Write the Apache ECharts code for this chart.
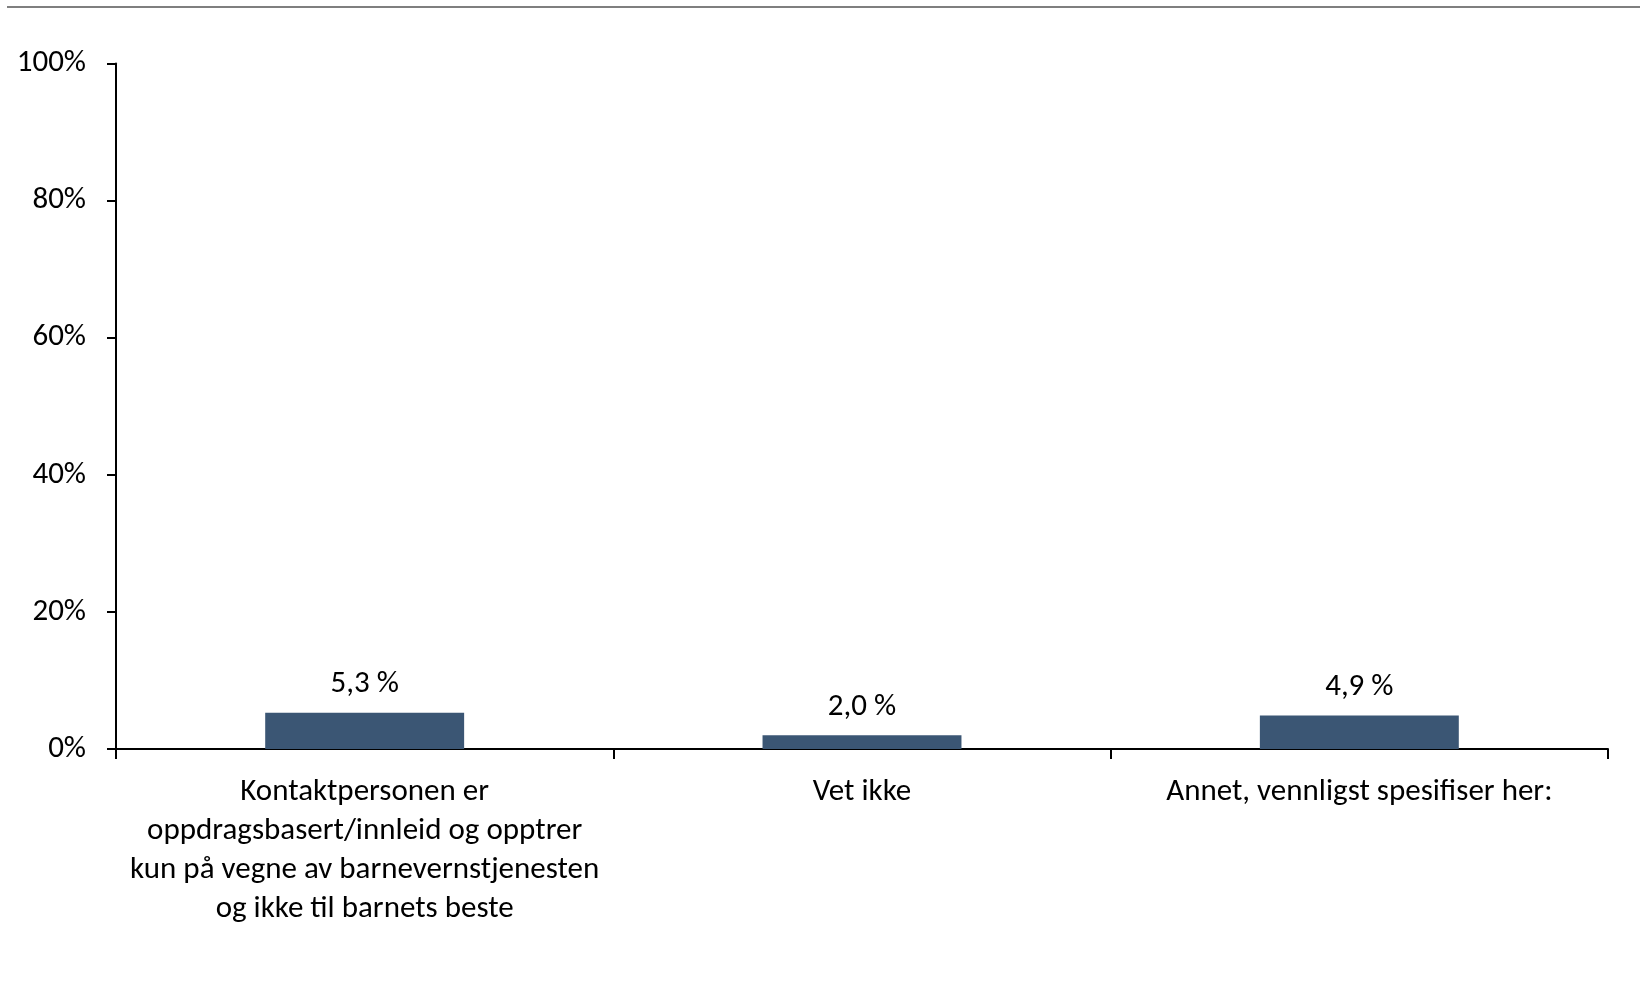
<!DOCTYPE html>
<html>
<head>
<meta charset="utf-8">
<script src="https://cdn.jsdelivr.net/npm/echarts@6/dist/echarts.min.js"></script>
<style>
html,body{margin:0;padding:0;background:#fff;}
#chart{width:1640px;height:994px;}
</style>
</head>
<body>
<div id="chart"></div>
<script>
const categories = [
  "Kontaktpersonen er\noppdragsbasert/innleid og opptrer\nkun på vegne av barnevernstjenesten\nog ikke til barnets beste",
  "Vet ikke",
  "Annet, vennligst spesifiser her:"
];
const values = [5.3, 2.0, 4.9];
const yTicks = { min: 0, max: 100, interval: 20 };

const FONT = "Carlito, Calibri, Lato, 'Liberation Sans', sans-serif";
const FS = 31;
const chart = echarts.init(document.getElementById('chart'), null, { renderer: 'canvas' });
chart.setOption({
  animation: false,
  backgroundColor: '#ffffff',
  grid: { left: 116, right: 32, top: 63.5, bottom: 245, containLabel: false },
  graphic: [{
    type: 'line',
    shape: { x1: 7, y1: 7, x2: 1640, y2: 7 },
    style: { stroke: '#7f7f7f', lineWidth: 2 }
  }],
  xAxis: {
    type: 'category',
    data: categories,
    axisLine: { lineStyle: { color: '#000', width: 2 } },
    axisTick: { show: true, length: 10, lineStyle: { color: '#000', width: 2 } },
    axisLabel: { color: '#000', fontFamily: FONT, fontSize: FS, lineHeight: 39, margin: 24, interval: 0 }
  },
  yAxis: {
    type: 'value',
    min: yTicks.min, max: yTicks.max, interval: yTicks.interval,
    axisLine: { show: true, lineStyle: { color: '#000', width: 2 } },
    axisTick: { show: true, length: 9, lineStyle: { color: '#000', width: 2 } },
    splitLine: { show: false },
    axisLabel: { color: '#000', fontFamily: FONT, fontSize: FS, margin: 30, formatter: '{value}%' }
  },
  series: [{
    type: 'bar',
    data: values,
    barWidth: '40%',
    itemStyle: { color: '#3b5674' },
    label: {
      show: true, position: 'top', distance: 13, color: '#000',
      fontFamily: FONT, fontSize: FS,
      formatter: p => p.value.toFixed(1).replace('.', ',') + ' %'
    }
  }]
});
</script>
</body>
</html>
